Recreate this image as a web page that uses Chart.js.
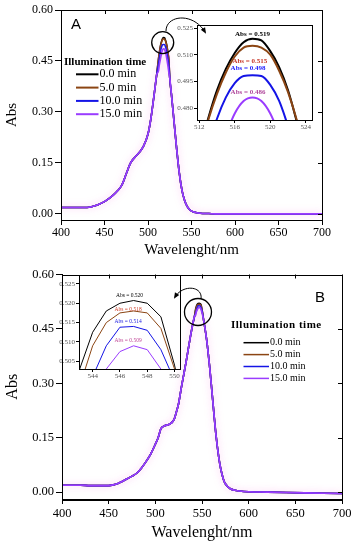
<!DOCTYPE html>
<html>
<head>
<meta charset="utf-8">
<script src="https://cdn.jsdelivr.net/npm/chart.js@4.4.1/dist/chart.umd.min.js"></script>
<style>
  body { margin: 0; background: #fff; width: 354px; height: 550px; position: relative; overflow: hidden; }
  canvas { position: absolute; }
</style>
</head>
<body>
<!-- insets sit under the (transparent) main charts -->
<canvas id="insetA" width="150" height="116" style="left:170px;top:18px"></canvas>
<canvas id="insetB" width="136" height="114" style="left:50px;top:268px"></canvas>
<canvas id="mainA" width="354" height="265" style="left:0;top:0"></canvas>
<canvas id="mainB" width="354" height="285" style="left:0;top:265px"></canvas>
<script>
// ---- data ----
const timeLabels = ['0.0 min', '5.0 min', '10.0 min', '15.0 min'];

// panel A : wavelength (nm) / absorbance
const wlLeftA  = [400, 410, 420, 430, 435, 440, 445, 450, 455, 460, 465, 470, 475, 480, 485, 490, 495, 500, 503, 506, 508, 510];
const absLeftA = [0.019, 0.019, 0.019, 0.019, 0.021, 0.025, 0.030, 0.036, 0.045, 0.055, 0.068, 0.085, 0.118, 0.150, 0.167, 0.181, 0.200, 0.235, 0.275, 0.330, 0.370, 0.410];
const wlPeakA  = [512, 513, 514, 515, 516, 517, 518, 519, 520, 521, 522, 523, 524];
const peakA0   = [0.455, 0.474, 0.490, 0.502, 0.511, 0.517, 0.519, 0.518, 0.512, 0.503, 0.490, 0.472, 0.452];
const peakA5   = [0.454, 0.473, 0.488, 0.500, 0.509, 0.514, 0.515, 0.514, 0.510, 0.501, 0.489, 0.473, 0.453];
const peakA10  = [0.440, 0.458, 0.474, 0.486, 0.494, 0.498, 0.4985, 0.498, 0.493, 0.484, 0.470, 0.455, 0.437];
const peakA15  = [0.420, 0.438, 0.452, 0.465, 0.477, 0.484, 0.486, 0.484, 0.477, 0.465, 0.450, 0.434, 0.415];
const wlRightA  = [525, 527, 530, 533, 536, 539, 542, 545, 548, 550, 555, 560, 570, 580, 600, 620, 640, 660, 680, 700];
const absRightA = [0.400, 0.350, 0.270, 0.190, 0.120, 0.070, 0.040, 0.022, 0.012, 0.008, 0.004, 0.002, 0.001, 0.000, 0.000, 0.000, 0.000, 0.000, 0.000, 0.000];

// panel B
const wlLeftB  = [400, 410, 420, 430, 440, 450, 455, 460, 465, 470, 475, 480, 485, 490, 495, 500, 503, 506, 510, 515, 520, 523, 525, 528, 530, 533, 535, 538, 540, 542];
const absLeftB = [0.019, 0.019, 0.019, 0.018, 0.018, 0.018, 0.020, 0.024, 0.030, 0.037, 0.044, 0.052, 0.066, 0.084, 0.105, 0.132, 0.150, 0.175, 0.183, 0.187, 0.200, 0.225, 0.245, 0.290, 0.318, 0.360, 0.390, 0.435, 0.462, 0.485];
const wlPeakB  = [543, 544, 545, 546, 547, 548, 549, 550];
const peakB0   = [0.5025, 0.5125, 0.518, 0.520, 0.5207, 0.520, 0.5165, 0.504];
const peakB5   = [0.498, 0.509, 0.515, 0.5175, 0.518, 0.5175, 0.5135, 0.503];
const peakB10  = [0.492, 0.501, 0.509, 0.5138, 0.514, 0.513, 0.508, 0.500];
const peakB15  = [0.487, 0.497, 0.503, 0.5075, 0.509, 0.508, 0.503, 0.495];
const wlRightB  = [552, 555, 558, 560, 563, 565, 568, 570, 573, 575, 580, 585, 590, 600, 620, 640, 660, 680, 700];
const absRightB = [0.470, 0.420, 0.350, 0.296, 0.210, 0.157, 0.095, 0.065, 0.035, 0.023, 0.010, 0.005, 0.003, 0.001, 0.000, -0.001, -0.002, -0.003, -0.004];

// tick values
const ticksMainX   = [400, 450, 500, 550, 600, 650, 700];
const ticksMainY   = [0, 0.15, 0.30, 0.45, 0.60];
const ticksInsetAX = [512, 516, 520, 524];
const ticksInsetAY = [0.480, 0.495, 0.510, 0.525];
const ticksInsetBX = [544, 546, 548, 550];
const ticksInsetBY = [0.505, 0.510, 0.515, 0.520, 0.525];

// peak values written in the insets
const peakTextA = ['Abs = 0.519', 'Abs = 0.515', 'Abs = 0.498', 'Abs = 0.486'];
const peakTextB = ['Abs = 0.520', 'Abs = 0.518', 'Abs = 0.514', 'Abs = 0.509'];

// ---- assemble series ----
const wlA = [...wlLeftA, ...wlPeakA, ...wlRightA];
const wlB = [...wlLeftB, ...wlPeakB, ...wlRightB];
const seriesA = [peakA0, peakA5, peakA10, peakA15].map(p => [...absLeftA, ...p, ...absRightA]);
const seriesB = [peakB0, peakB5, peakB10, peakB15].map(p => [...absLeftB, ...p, ...absRightB]);

const lineColors = ['#000000', '#8b4513', '#1414e6', '#9a3cff'];
const pts = (wl, ys) => wl.map((x, i) => ({ x: x, y: ys[i] }));

const serif = 'Liberation Serif';

// ---- plugins ----
// box round the plot, with inward ticks on top and right
const frame = {
  id: 'frame',
  beforeDraw(chart, args, o) {
    if (!o.white) return;
    const a = chart.chartArea;
    chart.ctx.save();
    chart.ctx.fillStyle = '#fff';
    chart.ctx.fillRect(a.left, a.top, a.width, a.height);
    chart.ctx.restore();
  },
  afterDraw(chart, args, o) {
    const { ctx, chartArea: a, scales: { x, y } } = chart;
    ctx.save();
    ctx.strokeStyle = '#000';
    ctx.lineWidth = 1;
    ctx.strokeRect(Math.round(a.left) + 0.5, Math.round(a.top) + 0.5, Math.round(a.width), Math.round(a.height));
    if (o.mirror) {
      ctx.beginPath();
      x.ticks.forEach(t => {
        const px = Math.round(x.getPixelForValue(t.value)) + 0.5;
        ctx.moveTo(px, a.top); ctx.lineTo(px, a.top + o.mirror);
      });
      y.ticks.forEach(t => {
        const py = Math.round(y.getPixelForValue(t.value)) + 0.5;
        ctx.moveTo(a.right, py); ctx.lineTo(a.right - o.mirror, py);
      });
      ctx.stroke();
    }
    ctx.restore();
  }
};

// soft pink halo under the top curve, as in the scanned figure
const halo = {
  id: 'halo',
  beforeDatasetDraw(chart, args, o) {
    if (!o.on || args.index !== 3) return;
    chart.ctx.save();
    chart.ctx.shadowColor = 'rgba(250,120,220,0.55)';
    chart.ctx.shadowBlur = 7;
  },
  afterDatasetDraw(chart, args, o) {
    if (!o.on || args.index !== 3) return;
    chart.ctx.restore();
  }
};

// legend with a bold title, drawn where the figure has it
const legendBox = {
  id: 'legendBox',
  afterDraw(chart, args, o) {
    if (!o.title) return;
    const ctx = chart.ctx;
    ctx.save();
    ctx.textBaseline = 'middle';
    ctx.fillStyle = '#000';
    ctx.font = o.titleFont;
    if (o.spacing) ctx.letterSpacing = o.spacing;
    ctx.fillText(o.title, o.x, o.y);
    ctx.letterSpacing = '0px';
    chart.data.datasets.forEach((ds, i) => {
      const yy = o.y + o.first + i * o.row;
      ctx.strokeStyle = ds.borderColor;
      ctx.lineWidth = o.lw;
      ctx.beginPath(); ctx.moveTo(o.x0, yy); ctx.lineTo(o.x1, yy); ctx.stroke();
      ctx.font = o.font;
      ctx.fillStyle = '#000';
      ctx.fillText(ds.label, o.x1 + 1, yy);
    });
    ctx.restore();
  }
};

// circle, curved arrow and panel letter
const marks = {
  id: 'marks',
  afterDraw(chart, args, o) {
    if (!o.circle) return;
    const { ctx, scales: { x, y } } = chart;
    ctx.save();
    ctx.strokeStyle = '#000';
    ctx.lineWidth = 1.3;
    ctx.beginPath();
    ctx.arc(x.getPixelForValue(o.circle[0]), y.getPixelForValue(o.circle[1]), o.circle[2], 0, Math.PI * 2);
    ctx.stroke();
    const [p0, c1, c2, p1] = o.arrow;
    ctx.lineWidth = 1;
    ctx.beginPath();
    ctx.moveTo(p0[0], p0[1]);
    ctx.bezierCurveTo(c1[0], c1[1], c2[0], c2[1], p1[0], p1[1]);
    ctx.stroke();
    const ang = Math.atan2(p1[1] - c2[1], p1[0] - c2[0]);
    ctx.fillStyle = '#000';
    ctx.beginPath();
    ctx.moveTo(p1[0] + 2 * Math.cos(ang), p1[1] + 2 * Math.sin(ang));
    ctx.lineTo(p1[0] - 4 * Math.cos(ang) + 2.5 * Math.sin(ang), p1[1] - 4 * Math.sin(ang) - 2.5 * Math.cos(ang));
    ctx.lineTo(p1[0] - 4 * Math.cos(ang) - 2.5 * Math.sin(ang), p1[1] - 4 * Math.sin(ang) + 2.5 * Math.cos(ang));
    ctx.closePath();
    ctx.fill();
    ctx.font = '15px "Liberation Sans"';
    ctx.textAlign = 'center';
    ctx.textBaseline = 'middle';
    ctx.fillText(o.letter, o.letterPos[0], o.letterPos[1]);
    ctx.restore();
  }
};

// "Abs = ..." texts inside the insets, placed in data units
const peakNotes = {
  id: 'peakNotes',
  afterDatasetsDraw(chart, args, o) {
    if (!o.texts) return;
    const { ctx, scales: { x, y } } = chart;
    ctx.save();
    ctx.font = o.font;
    ctx.textAlign = 'center';
    ctx.textBaseline = 'middle';
    o.texts.forEach((t, i) => {
      ctx.fillStyle = o.colors[i];
      ctx.fillText(t, x.getPixelForValue(o.at[i][0]), y.getPixelForValue(o.at[i][1]));
    });
    ctx.restore();
  }
};

Chart.register(frame, halo, legendBox, marks, peakNotes);

function makeDatasets(wl, series, width, smooth) {
  return series.map((s, i) => ({
    label: timeLabels[i],
    data: pts(wl, s),
    borderColor: lineColors[i],
    borderWidth: width,
    pointRadius: 0,
    cubicInterpolationMode: smooth ? 'monotone' : 'default',
    order: 3 - i
  }));
}

function mainChart(id, wl, series, cfg) {
  return new Chart(document.getElementById(id), {
    type: 'line',
    data: { datasets: makeDatasets(wl, series, 1.6, true) },
    options: {
      responsive: false,
      animation: false,
      layout: { padding: { left: 0, top: cfg.top, right: cfg.right, bottom: 0 } },
      plugins: {
        legend: { display: false },
        tooltip: { enabled: false },
        frame: { mirror: 4 },
        halo: { on: true },
        legendBox: cfg.legend,
        marks: cfg.marks
      },
      scales: {
        x: {
          type: 'linear', min: 400, max: 700,
          afterBuildTicks: s => { s.ticks = ticksMainX.map(v => ({ value: v })); },
          afterFit: s => { s.height = cfg.xHeight; },
          grid: { drawOnChartArea: false, tickLength: 5, color: '#000' },
          border: { color: '#000' },
          ticks: { font: { family: serif, size: cfg.tickSize }, color: '#000', padding: cfg.xPad, maxRotation: 0 },
          title: { display: true, text: 'Wavelenght/nm', font: { family: serif, size: cfg.titleSize }, color: '#000', padding: { top: 0, bottom: cfg.titlePad } }
        },
        y: {
          type: 'linear', min: cfg.yMin, max: 0.60,
          afterBuildTicks: s => { s.ticks = ticksMainY.map(v => ({ value: v })); },
          afterFit: s => { s.width = cfg.yWidth; },
          grid: { drawOnChartArea: false, tickLength: 6, color: '#000' },
          border: { color: '#000' },
          ticks: { font: { family: serif, size: cfg.tickSize }, color: '#000', padding: 2, callback: v => v.toFixed(2) },
          title: { display: true, text: 'Abs', font: { family: serif, size: cfg.titleSize }, color: '#000', padding: { top: 3, bottom: 0 } }
        }
      }
    }
  });
}

function insetChart(id, wl, series, cfg) {
  return new Chart(document.getElementById(id), {
    type: 'line',
    data: { datasets: makeDatasets(wl, series, cfg.lw, cfg.smooth) },
    options: {
      responsive: false,
      animation: false,
      layout: { padding: { left: 0, top: cfg.top, right: cfg.right, bottom: 0 } },
      plugins: {
        legend: { display: false },
        tooltip: { enabled: false },
        frame: { white: true, mirror: 0 },
        halo: { on: false },
        peakNotes: cfg.notes
      },
      scales: {
        x: {
          type: 'linear', min: cfg.xMin, max: cfg.xMax,
          afterBuildTicks: s => { s.ticks = cfg.xTicks.map(v => ({ value: v })); },
          afterFit: s => { s.height = cfg.xHeight; },
          grid: { drawOnChartArea: false, tickLength: 3, color: '#000' },
          border: { color: '#000' },
          ticks: { font: { family: serif, size: 7 }, color: '#555', padding: 0, maxRotation: 0 }
        },
        y: {
          type: 'linear', min: cfg.yMin, max: cfg.yMax,
          afterBuildTicks: s => { s.ticks = cfg.yTicks.map(v => ({ value: v })); },
          afterFit: s => { s.width = cfg.yWidth; },
          grid: { drawOnChartArea: false, tickLength: 3, color: '#000' },
          border: { color: '#000' },
          ticks: { font: { family: serif, size: 7 }, color: '#555', padding: 1, callback: v => v.toFixed(3) }
        }
      }
    }
  });
}

insetChart('insetA', wlA, seriesA, {
  top: 7, right: 8, xHeight: 14, yWidth: 27, lw: 2, smooth: true,
  xMin: 511.75, xMax: 524.7, yMin: 0.4733, yMax: 0.5267,
  xTicks: ticksInsetAX, yTicks: ticksInsetAY,
  notes: {
    texts: peakTextA,
    font: 'bold 7px "Liberation Serif"',
    colors: ['#000000', '#c8382a', '#1a1aff', '#b0489c'],
    at: [[518, 0.5216], [517.7, 0.5066], [517.5, 0.5023], [517.5, 0.4892]]
  }
});

insetChart('insetB', wlB, seriesB, {
  top: 7, right: 6, xHeight: 13, yWidth: 29, lw: 1, smooth: false,
  xMin: 543.0, xMax: 550.4, yMin: 0.503, yMax: 0.5273,
  xTicks: ticksInsetBX, yTicks: ticksInsetBY,
  notes: {
    texts: peakTextB,
    font: '5.5px "Liberation Serif"',
    colors: ['#000000', '#d0402a', '#2020e0', '#c04898'],
    at: [[546.7, 0.5221], [546.6, 0.5184], [546.6, 0.5153], [546.6, 0.5103]]
  }
});

mainChart('mainA', wlA, seriesA, {
  top: 10, right: 32, xHeight: 45, yWidth: 61, yMin: -0.018,
  tickSize: 12, titleSize: 15, xPad: 1, titlePad: 6,
  legend: {
    title: 'Illumination time', titleFont: 'bold 11px "Liberation Serif"',
    font: '12px "Liberation Serif"', x: 64, y: 62.5, first: 11.8, row: 13.3,
    x0: 76, x1: 98.5, lw: 2
  },
  marks: {
    circle: [516.9, 0.504, 11],
    arrow: [[166, 31], [166, 15], [193, 12], [205, 32]],
    letter: 'A', letterPos: [76, 25]
  }
});

mainChart('mainB', wlB, seriesB, {
  top: 9, right: 12, xHeight: 51, yWidth: 62, yMin: -0.019,
  tickSize: 12.5, titleSize: 16, xPad: 2, titlePad: 8,
  legend: {
    title: 'Illumination time', titleFont: 'bold 11px "Liberation Serif"', spacing: '0.5px',
    font: '10px "Liberation Serif"', x: 231, y: 60, first: 17.7, row: 11.9,
    x0: 243.5, x1: 269, lw: 1.5
  },
  marks: {
    circle: [545.7, 0.4966, 13.5],
    arrow: [[201, 34], [203, 21], [183, 19], [175, 32]],
    letter: 'B', letterPos: [320, 33]
  }
});
</script>
</body>
</html>
